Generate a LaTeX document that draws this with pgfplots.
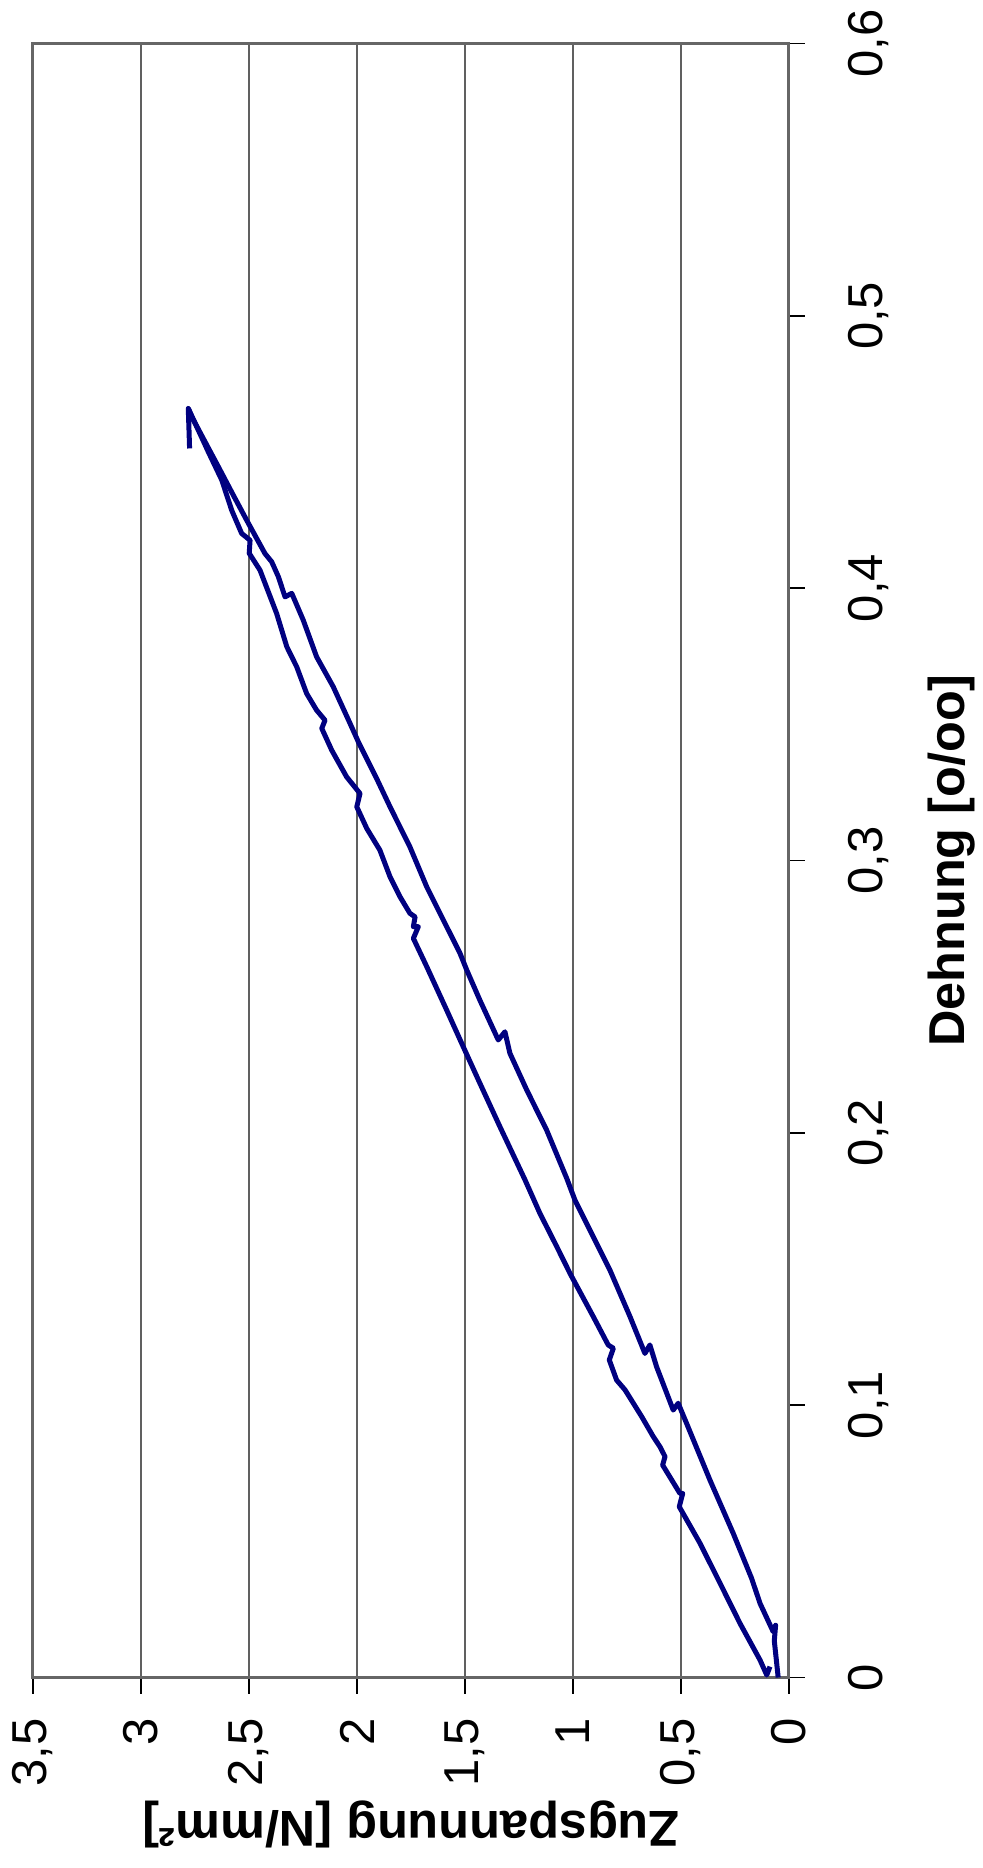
\documentclass[border=0pt]{standalone}
\usepackage{fontspec}
\setmainfont{Liberation Sans}
\usepackage{pgfplots}
\pgfplotsset{compat=1.18}

\definecolor{curve}{HTML}{000080}
\definecolor{gridgray}{HTML}{606060}
\definecolor{axisgray}{HTML}{666666}

\newcommand\ticksfont{\fontsize{12.25bp}{14bp}\selectfont}
\newcommand\labelfont{\fontsize{12.6bp}{15bp}\selectfont\bfseries}

\begin{document}
\begin{tikzpicture}
\begin{axis}[
  at={(0,0)}, anchor=south west,
  scale only axis, width=189bp, height=408.5bp,
  x dir=reverse,
  xmin=0, xmax=3.5, ymin=0, ymax=0.6,
  xtick={0,0.5,1,1.5,2,2.5,3,3.5},
  ytick={0,0.1,0.2,0.3,0.4,0.5,0.6},
  xmajorgrids,
  major grid style={color=gridgray, line width=0.4bp},
  axis line style={color=axisgray, line width=0.75bp},
  tick align=outside, major tick length=4bp,
  tick style={color=black, line width=0.4bp},
  xtick pos=left, ytick pos=right,
  yticklabel pos=right,
  /pgf/number format/assume math mode=true,
  /pgf/number format/use comma,
  ticklabel style={font=\ticksfont},
  xticklabel style={rotate=90, anchor=east, inner sep=0pt},
  yticklabel style={rotate=90, anchor=north, inner sep=0pt},
  xticklabel shift=6bp,
  yticklabel shift=10.5bp,
  every axis x label/.style={at={(axis description cs:0.5,0)}, yshift=-36.8bp,
    rotate=180, anchor=center, font=\labelfont},
  every axis y label/.style={at={(axis description cs:1,0.5)}, xshift=40.75bp,
    rotate=90, anchor=center, font=\labelfont},
  xlabel={Zugspannung [N/mm²]},
  ylabel={Dehnung [o/oo]},
]
% unloading path, starting with the short drop at peak stress
\addplot[curve, line width=1.25bp, line join=round] coordinates {
 (2.775,0.4513) (2.781,0.4660) (2.688,0.4500) (2.626,0.4397) (2.580,0.4286)
 (2.534,0.4201) (2.495,0.4176) (2.499,0.4128) (2.449,0.4066) (2.372,0.3907)
 (2.325,0.3785) (2.279,0.3711) (2.233,0.3613) (2.187,0.3552) (2.148,0.3515)
 (2.163,0.3485) (2.117,0.3405) (2.048,0.3307) (1.986,0.3246) (2.001,0.3197)
 (1.955,0.3118) (1.894,0.3038) (1.847,0.2940) (1.801,0.2867) (1.755,0.2806)
 (1.731,0.2793) (1.739,0.2757) (1.716,0.2757) (1.739,0.2714) (1.677,0.2610)
 (1.585,0.2451) (1.508,0.2316) (1.431,0.2182) (1.338,0.2022) (1.222,0.1827)
 (1.153,0.1704) (1.075,0.1582) (1.014,0.1484) (0.906,0.1325) (0.837,0.1221)
 (0.813,0.1209) (0.832,0.1166) (0.798,0.1092) (0.759,0.1056) (0.682,0.0958)
 (0.628,0.0884) (0.597,0.0847) (0.574,0.0811) (0.585,0.0780) (0.505,0.0676)
 (0.492,0.0676) (0.508,0.0627) (0.412,0.0493) (0.319,0.0346) (0.227,0.0199)
 (0.134,0.0064) (0.103,0.0009) (0.088,0.0040)
};
% loading path
\addplot[curve, line width=1.25bp, line join=round] coordinates {
 (2.781,0.4660) (2.765,0.4629) (2.642,0.4446) (2.573,0.4342) (2.511,0.4250)
 (2.426,0.4127) (2.395,0.4097) (2.364,0.4042) (2.333,0.3968) (2.302,0.3981)
 (2.249,0.3883) (2.187,0.3748) (2.110,0.3638) (2.032,0.3503) (1.994,0.3436)
 (1.909,0.3301) (1.847,0.3197) (1.755,0.3050) (1.677,0.2903) (1.600,0.2781)
 (1.523,0.2659) (1.492,0.2598) (1.431,0.2487) (1.346,0.2341) (1.315,0.2371)
 (1.292,0.2292) (1.214,0.2157) (1.122,0.2010) (1.029,0.1833) (0.991,0.1753)
 (0.906,0.1618) (0.829,0.1496) (0.736,0.1325) (0.667,0.1190) (0.644,0.1221)
 (0.613,0.1141) (0.536,0.0982) (0.513,0.1007) (0.474,0.0933) (0.366,0.0725)
 (0.258,0.0529) (0.173,0.0364) (0.134,0.0272) (0.073,0.0168) (0.062,0.0192)
 (0.068,0.0135) (0.050,0.0)
};
\end{axis}
\pgfresetboundingbox
\path[use as bounding box] (-8.25bp,-47.625bp) rectangle (237.5bp,419.375bp);
\end{tikzpicture}
\end{document}
